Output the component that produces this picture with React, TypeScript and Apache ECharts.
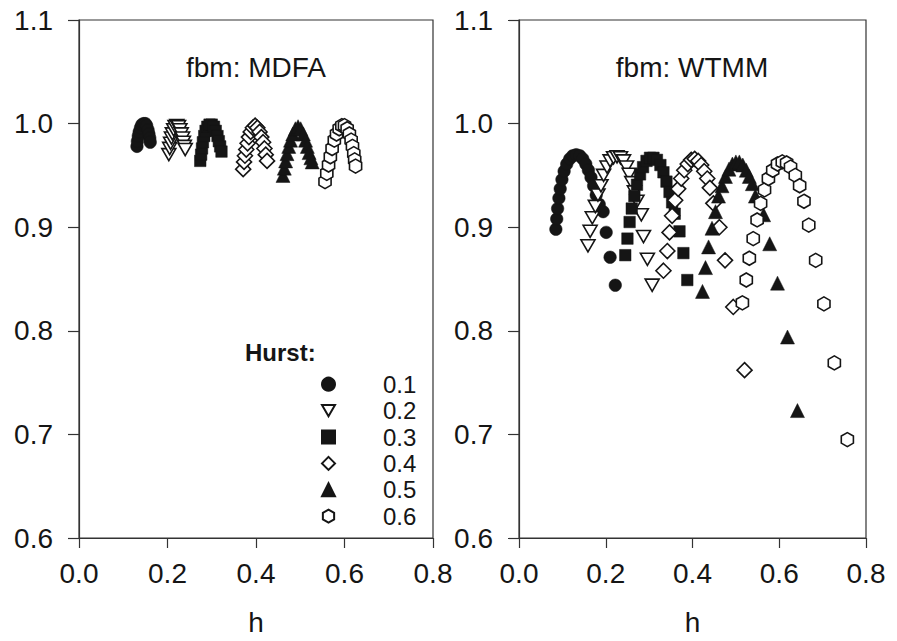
import React, { useEffect, useRef } from "react";
import * as echarts from "echarts";

const hurstNames = ["0.1", "0.2", "0.3", "0.4", "0.5", "0.6"];
const xTicks = [0, 0.2, 0.4, 0.6, 0.8];
const yTicks = [0.6, 0.7, 0.8, 0.9, 1.0, 1.1];

// MDFA panel (h, value)
const mdfa01 = [[0.131,0.978],[0.132,0.983],[0.134,0.988],[0.136,0.992],[0.139,0.996],[0.142,0.999],[0.146,1.0],[0.150,1.0],[0.153,0.998],[0.156,0.994],[0.158,0.99],[0.16,0.986],[0.161,0.982]];
const mdfa02 = [[0.203,0.970],[0.205,0.976],[0.207,0.981],[0.209,0.986],[0.211,0.990],[0.214,0.994],[0.217,0.997],[0.221,0.998],[0.225,0.997],[0.228,0.994],[0.231,0.990],[0.234,0.986],[0.236,0.982],[0.238,0.978],[0.240,0.975]];
const mdfa03 = [[0.274,0.964],[0.276,0.970],[0.278,0.976],[0.280,0.982],[0.283,0.988],[0.286,0.993],[0.290,0.997],[0.295,0.999],[0.300,0.999],[0.305,0.997],[0.309,0.993],[0.313,0.988],[0.316,0.983],[0.319,0.978],[0.322,0.973]];
const mdfa04 = [[0.371,0.956],[0.373,0.963],[0.375,0.969],[0.378,0.975],[0.381,0.981],[0.384,0.987],[0.388,0.992],[0.393,0.996],[0.398,0.998],[0.403,0.996],[0.408,0.992],[0.412,0.987],[0.416,0.982],[0.419,0.976],[0.422,0.970],[0.425,0.964]];
const mdfa05 = [[0.461,0.950],[0.464,0.957],[0.467,0.964],[0.470,0.971],[0.474,0.978],[0.478,0.984],[0.483,0.990],[0.489,0.995],[0.495,0.997],[0.501,0.995],[0.507,0.990],[0.512,0.984],[0.516,0.978],[0.520,0.972],[0.524,0.967],[0.527,0.963]];
const mdfa06 = [[0.556,0.944],[0.560,0.952],[0.564,0.960],[0.568,0.968],[0.572,0.976],[0.577,0.984],[0.582,0.990],[0.588,0.995],[0.594,0.998],[0.600,0.998],[0.606,0.995],[0.611,0.990],[0.615,0.984],[0.618,0.978],[0.621,0.971],[0.623,0.965],[0.625,0.959]];

// WTMM panel (h, value)
const wtmm01 = [[0.085,0.898],[0.087,0.908],[0.089,0.918],[0.092,0.928],[0.095,0.937],[0.099,0.946],[0.104,0.954],[0.110,0.961],[0.117,0.966],[0.124,0.969],[0.132,0.970],[0.140,0.969],[0.147,0.966],[0.154,0.961],[0.160,0.955],[0.166,0.948],[0.172,0.940],[0.178,0.931],[0.185,0.922],[0.194,0.915],[0.201,0.895],[0.210,0.871],[0.222,0.844]];
const wtmm02 = [[0.159,0.882],[0.164,0.896],[0.169,0.909],[0.176,0.920],[0.182,0.931],[0.189,0.940],[0.195,0.950],[0.203,0.958],[0.210,0.964],[0.218,0.967],[0.226,0.968],[0.234,0.967],[0.241,0.964],[0.248,0.958],[0.254,0.951],[0.260,0.943],[0.266,0.934],[0.272,0.925],[0.282,0.912],[0.287,0.891],[0.296,0.869],[0.307,0.844]];
const wtmm03 = [[0.245,0.873],[0.250,0.889],[0.255,0.905],[0.260,0.918],[0.266,0.930],[0.272,0.941],[0.279,0.951],[0.286,0.958],[0.294,0.964],[0.302,0.967],[0.310,0.967],[0.318,0.965],[0.326,0.960],[0.333,0.953],[0.340,0.944],[0.347,0.934],[0.353,0.924],[0.359,0.913],[0.370,0.896],[0.379,0.875],[0.388,0.849]];
const wtmm04 = [[0.333,0.858],[0.342,0.877],[0.347,0.895],[0.353,0.911],[0.360,0.926],[0.367,0.937],[0.374,0.947],[0.381,0.955],[0.389,0.961],[0.397,0.965],[0.405,0.966],[0.413,0.964],[0.420,0.960],[0.427,0.954],[0.434,0.947],[0.440,0.938],[0.448,0.923],[0.462,0.900],[0.475,0.868],[0.494,0.823],[0.520,0.762]];
const wtmm05 = [[0.423,0.838],[0.430,0.861],[0.437,0.881],[0.445,0.899],[0.453,0.915],[0.460,0.930],[0.468,0.940],[0.476,0.949],[0.484,0.956],[0.492,0.961],[0.500,0.963],[0.508,0.963],[0.516,0.960],[0.524,0.955],[0.531,0.949],[0.538,0.942],[0.545,0.930],[0.564,0.912],[0.578,0.884],[0.596,0.846],[0.619,0.794],[0.642,0.723]];
const wtmm06 = [[0.515,0.827],[0.524,0.849],[0.531,0.870],[0.540,0.889],[0.549,0.907],[0.557,0.923],[0.566,0.936],[0.575,0.947],[0.585,0.955],[0.596,0.961],[0.607,0.963],[0.617,0.962],[0.626,0.958],[0.637,0.950],[0.647,0.940],[0.657,0.925],[0.668,0.902],[0.684,0.868],[0.703,0.826],[0.727,0.769],[0.757,0.695]];

const mdfaSeries = [mdfa01, mdfa02, mdfa03, mdfa04, mdfa05, mdfa06];
const wtmmSeries = [wtmm01, wtmm02, wtmm03, wtmm04, wtmm05, wtmm06];

const INK = "#151515";
const FONT = "Liberation Sans";
const TRI_DOWN = "path://M0,0 L20,0 L10,17.32 Z";
const HEXAGON = "path://M8.66,0 L17.32,5 L17.32,15 L8.66,20 L0,15 L0,5 Z";

const markerStyles = [
  { symbol: "circle", size: 12.5, filled: true },
  { symbol: TRI_DOWN, size: 14, filled: false },
  { symbol: "rect", size: 11.5, filled: true },
  { symbol: "diamond", size: 15, filled: false },
  { symbol: "triangle", size: 14, filled: true },
  { symbol: HEXAGON, size: 14, filled: false },
];

export default function App() {
  const ref = useRef<HTMLDivElement>(null);
  useEffect(() => {
    if (!ref.current) return;
    const chart = echarts.init(ref.current, undefined, { renderer: "svg" });

    const grids = [
      { left: 79, top: 20, width: 354, height: 522 },
      { left: 519, top: 20, width: 347, height: 522 },
    ].map((g) => ({ ...g, show: true, borderColor: "#333", borderWidth: 1.2, backgroundColor: "transparent" }));

    const mkX = (gi: number) => ({
      type: "value",
      gridIndex: gi,
      min: xTicks[0],
      max: xTicks[xTicks.length - 1],
      interval: 0.2,
      name: "h",
      nameLocation: "middle",
      nameGap: 70,
      nameTextStyle: { fontFamily: FONT, fontSize: 28, color: INK },
      axisLine: { show: true, lineStyle: { color: "#333", width: 1.2 } },
      axisTick: { show: true, inside: false, length: 10, lineStyle: { color: "#333", width: 1.2 } },
      axisLabel: { fontFamily: FONT, fontSize: 28, color: INK, margin: 21, formatter: (v: number) => v.toFixed(1) },
      splitLine: { show: false },
    });
    const mkY = (gi: number) => ({
      type: "value",
      gridIndex: gi,
      min: yTicks[0],
      max: yTicks[yTicks.length - 1],
      interval: 0.1,
      axisLine: { show: true, lineStyle: { color: "#333", width: 1.2 } },
      axisTick: { show: true, inside: false, length: 11, lineStyle: { color: "#333", width: 1.2 } },
      axisLabel: { fontFamily: FONT, fontSize: 28, color: INK, margin: 26, formatter: (v: number) => v.toFixed(1) },
      splitLine: { show: false },
    });

    const series: any[] = [];
    [mdfaSeries, wtmmSeries].forEach((set, gi) => {
      set.forEach((data, i) => {
        const m = markerStyles[i];
        series.push({
          type: "scatter",
          name: hurstNames[i],
          xAxisIndex: gi,
          yAxisIndex: gi,
          data,
          symbol: m.symbol,
          symbolSize: m.size,
          symbolKeepAspect: true,
          itemStyle: m.filled
            ? { color: INK, borderColor: INK, borderWidth: 0.5, opacity: 1 }
            : { color: "#ffffff", borderColor: INK, borderWidth: 1.6, opacity: 1 },
          emphasis: { disabled: true },
        });
      });
    });

    chart.setOption({
      animation: false,
      backgroundColor: "#ffffff",
      grid: grids,
      xAxis: [mkX(0), mkX(1)],
      yAxis: [mkY(0), mkY(1)],
      legend: {
        show: true,
        orient: "vertical",
        left: 316,
        top: 366,
        itemWidth: 13,
        itemHeight: 13,
        itemGap: 0,
        selectedMode: false,
        data: hurstNames.map((n, i) => ({
          name: n,
          icon: ["circle", TRI_DOWN, "rect", "diamond", "triangle", HEXAGON][i],
        })),
        textStyle: { fontFamily: FONT, fontSize: 24, color: INK, lineHeight: 26.4, padding: [0, 0, 0, 43] },
      },
      graphic: [
        { type: "text", x: 256, y: 67, style: { text: "fbm: MDFA", fontFamily: FONT, fontSize: 28, fill: INK, textAlign: "center", textVerticalAlign: "middle" } },
        { type: "text", x: 692, y: 67, style: { text: "fbm: WTMM", fontFamily: FONT, fontSize: 28, fill: INK, textAlign: "center", textVerticalAlign: "middle" } },
        { type: "text", x: 245, y: 352, style: { text: "Hurst:", fontFamily: FONT, fontSize: 24, fontWeight: "bold", fill: INK, textVerticalAlign: "middle" } },
      ],
      series,
    });
    return () => chart.dispose();
  }, []);
  return <div ref={ref} style={{ width: 897, height: 641, position: "absolute", left: 0, top: 0 }} />;
}
